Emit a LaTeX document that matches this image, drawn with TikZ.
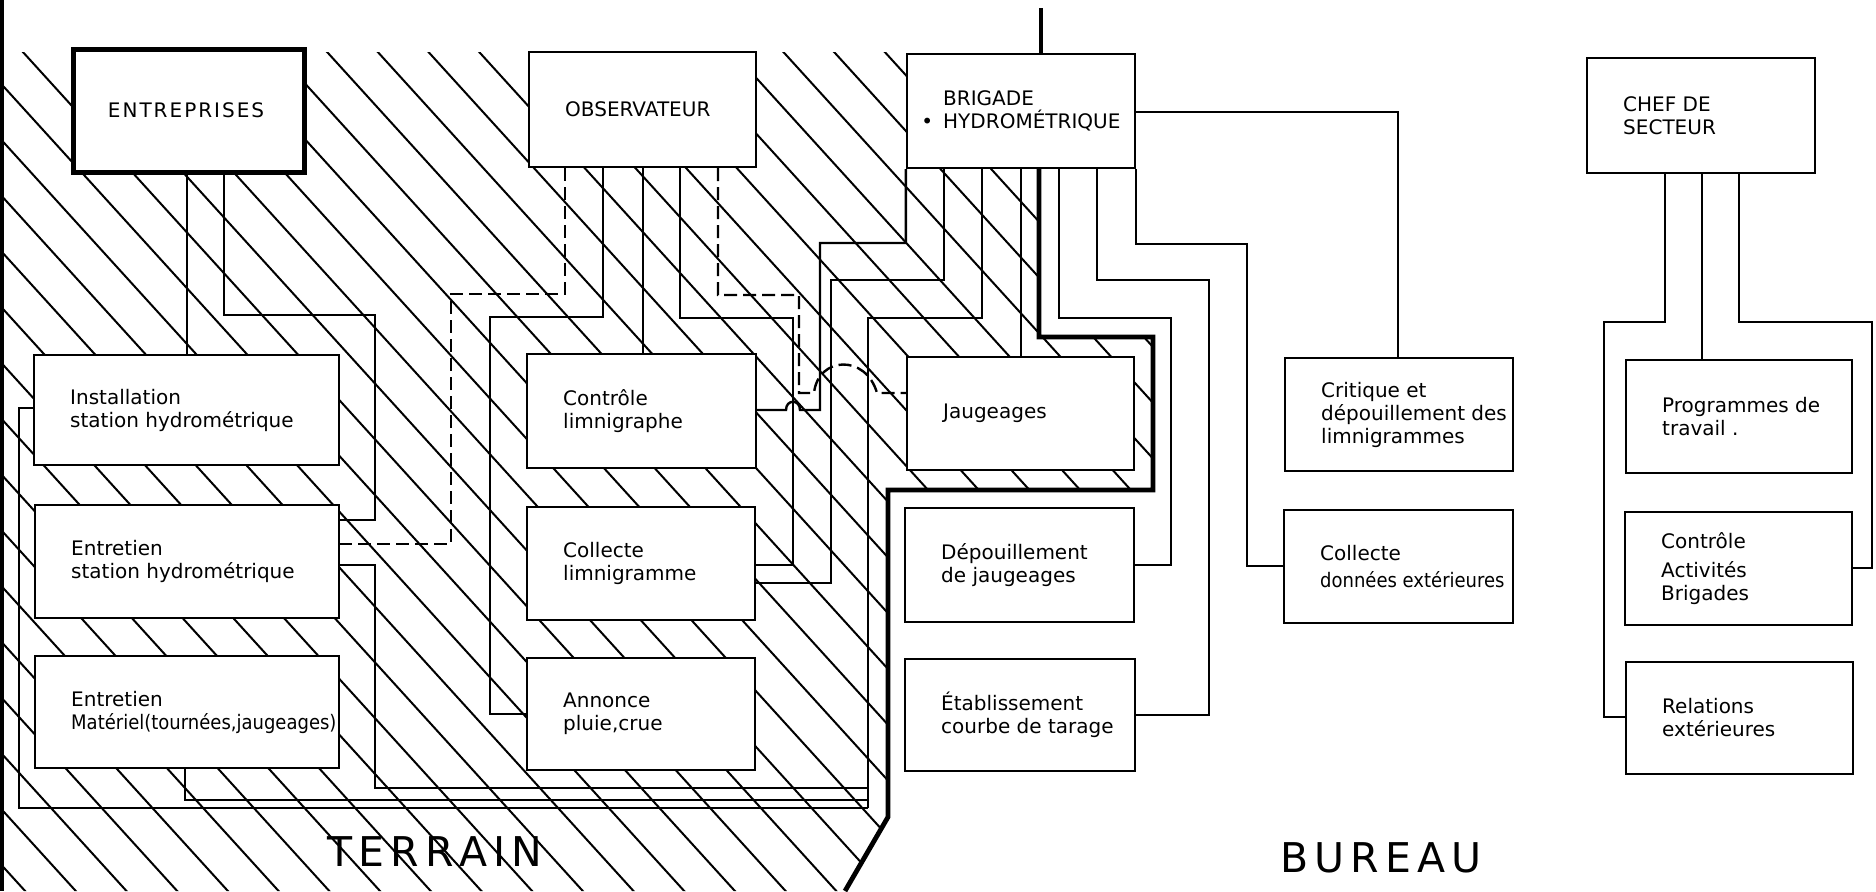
\documentclass[tikz,border=0pt]{standalone}
\usepackage{fontspec}
\setmainfont{DejaVu Sans}
\usepackage{graphicx}
\newcommand\bx[7][]{%
  \pgfmathsetmacro\bxw{(#5-#3)*0.5}%
  \pgfmathsetmacro\bxh{(#6-#4)*0.5}%
  \node[boite,minimum width=\bxw pt,minimum height=\bxh pt,#1] (#2) at ({(#3+#5)/2},{(#4+#6)/2}) {};%
  \node[txt,anchor=west] (#2t) at ([xshift=18.5pt]#2.west) {#7};}
\begin{document}
\begin{tikzpicture}[x=0.5pt,y=-0.5pt,
  boite/.style={draw,line width=1.2pt,fill=white,inner sep=0pt},
  txt/.style={inner sep=0pt,align=left,font=\fontsize{10}{11.5}\selectfont},
  cn/.style={line width=1.2pt},
  dsh/.style={line width=1.2pt,dash pattern=on 6.5pt off 3pt},
  thk/.style={line width=2.4pt},
  hatch/.style={line width=1pt},
  big/.style={font=\fontsize{20.5}{24}\selectfont,inner sep=0pt}]
\useasboundingbox (0,0) rectangle (1876,891);
% hatching of the TERRAIN zone
\begin{scope}
\clip (0,52) -- (907,52) -- (907,168) -- (1039,168) -- (1039,337) -- (1153,337)
  -- (1153,490) -- (888,490) -- (888,817) -- (845,891) -- (0,891) -- cycle;
\foreach \k in {-22,...,17}{\draw[hatch] ({318+50.7*\k},42) -- ++(800,880);}
\end{scope}
\draw[line width=2pt] (2,0) -- (2,891);
% boxes
\bx[line width=2.5pt]{ent}{73}{49}{304}{172}{E\kern1pt N\kern1pt T\kern1pt R\kern1pt E\kern1pt P\kern1pt R\kern1pt I\kern1pt S\kern1pt E\kern1pt S}
\bx{obs}{529}{52}{756}{167}{OBSERVATEUR}
\bx{brig}{907}{54}{1135}{168}{BRIGADE\\\llap{•\hspace{5pt}}HYDROMÉTRIQUE}
\bx{chef}{1587}{58}{1815}{173}{CHEF DE\\SECTEUR}
\bx{inst}{34}{355}{339}{465}{Installation\\station hydrométrique}
\bx{entst}{35}{505}{339}{618}{Entretien\\station hydrométrique}
\bx{mat}{35}{656}{339}{768}{Entretien\\\scalebox{0.9}[1]{Matériel(tournées,jaugeages)}}
\bx{ctrl}{527}{354}{756}{468}{Contrôle\\limnigraphe}
\bx{coll}{527}{507}{755}{620}{Collecte\\limnigramme}
\bx{ann}{527}{658}{755}{770}{Annonce\\pluie,crue}
\bx{jaug}{907}{357}{1134}{470}{Jaugeages}
\bx{depj}{905}{508}{1134}{622}{Dépouillement\\de jaugeages}
\bx{etab}{905}{659}{1135}{771}{Établissement\\courbe de tarage}
\bx{crit}{1285}{358}{1513}{471}{Critique et\\dépouillement des\\limnigrammes}
\bx{colld}{1284}{510}{1513}{623}{Collecte\\[2pt]\scalebox{0.9}[1]{données extérieures}}
\bx{prog}{1626}{360}{1852}{473}{Programmes de\\travail .}
\bx{ctrla}{1625}{512}{1852}{625}{Contrôle\\[3pt]Activités\\Brigades}
\bx{rel}{1626}{662}{1853}{774}{Relations\\extérieures}
% free ends
\coordinate (bus) at (868,808);
\coordinate (topend) at (1041,8);
\coordinate (botend) at (845,891);
% ENTREPRISES
\draw[cn] (ent.south -| 187,0) -- (inst.north -| 187,0);
\draw[cn] (ent.south -| 224,0) |- (375,315) |- (entst.east |- 0,520);
\draw[cn] (entst.east |- 0,565) -| (375,788) -- (bus |- 0,788);
\draw[cn] (mat.south -| 185,0) |- (bus |- 0,800);
\draw[cn] (inst.west |- 0,408) -| (19,808) -- (bus);
% OBSERVATEUR
\draw[dsh] (obs.south -| 565,0) |- (451,294) |- (entst.east |- 0,544);
\draw[cn] (obs.south -| 603,0) |- (490,317) |- (ann.west |- 0,714);
\draw[cn] (obs.south -| 643,0) -- (ctrl.north -| 643,0);
\draw[cn] (obs.south -| 680,0) |- (793,318) |- (coll.east |- 0,565);
\draw[dsh] (obs.south -| 718,0) |- (799,295) |- (814,393)
  .. controls (818,356) and (866,354) .. (877,393) -- (jaug.west |- 0,393);
% BRIGADE
\draw[cn] (brig.south west) |- (820,243) |- (800,410)
  .. controls (800,399) and (786,399) .. (786,410) -- (ctrl.east |- 0,410);
\draw[cn] (brig.south -| 944,0) |- (831,280) |- (coll.east |- 0,583);
\draw[cn] (brig.south -| 982,0) |- (bus |- 0,318) -- (bus);
\draw[cn] (brig.south -| 1021,0) -- (jaug.north -| 1021,0);
\draw[thk] (brig.south -| 1039,0) |- (1153,337) |- (888,490) -- (888,817) -- (botend);
\draw[thk] (topend) -- (brig.north -| topend);
\draw[cn] (brig.south -| 1059,0) |- (1171,318) |- (depj.east |- 0,565);
\draw[cn] (brig.south -| 1097,0) |- (1209,280) |- (etab.east |- 0,715);
\draw[cn] (brig.south east) |- (1247,244) |- (colld.west |- 0,566);
\draw[cn] (brig.east |- 0,112) -| (crit.north -| 1398,0);
% CHEF DE SECTEUR
\draw[cn] (chef.south -| 1702,0) -- (prog.north -| 1702,0);
\draw[cn] (chef.south -| 1665,0) |- (1604,322) |- (rel.west |- 0,717);
\draw[cn] (chef.south -| 1739,0) |- (1872,322) |- (ctrla.east |- 0,568);
% zone labels
\node[big] (terrain) at (435,852) {T\kern3pt E\kern3pt R\kern3pt R\kern3pt A\kern3pt I\kern3pt N};
\node[big] (bureau) at (1381,858) {B\kern3pt U\kern3pt R\kern3pt E\kern3pt A\kern3pt U};
\end{tikzpicture}
\end{document}
